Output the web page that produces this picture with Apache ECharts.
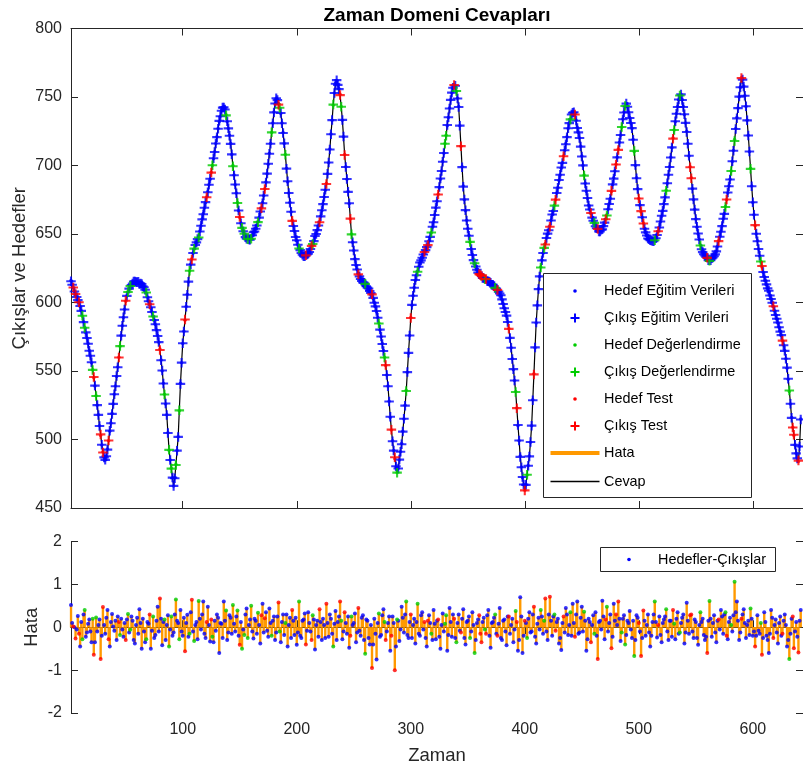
<!DOCTYPE html>
<html>
<head>
<meta charset="utf-8">
<script src="https://cdn.jsdelivr.net/npm/echarts@6/dist/echarts.min.js"></script>
<style>
  html, body { margin: 0; padding: 0; background: #fff; }
  #chart { width: 803px; height: 769px; }
</style>
</head>
<body>
<div id="chart"></div>
<script>
// zaman adımları: 2, 3, ..., 642
const zamanBas = 2;
const zamanAdim = 1;

// hedef değerler (üst grafik), her satır 20 zaman adımı
const hedef = [
  616, 613, 611, 608, 606, 604, 602, 600, 597, 594, 590, 586, 582, 578, 574, 570, 565, 561, 556, 551,
  545, 539, 532, 525, 518, 510, 503, 496, 491, 487, 485, 488, 493, 499, 506, 512, 519, 526, 533, 539,
  546, 553, 560, 568, 576, 583, 589, 595, 601, 605, 608, 610, 612, 613, 614, 615, 615, 615, 615, 615,
  614, 614, 613, 612, 611, 609, 607, 604, 601, 599, 596, 593, 590, 587, 584, 580, 576, 571, 566, 558,
  550, 541, 533, 526, 518, 505, 492, 485, 479, 472, 466, 472, 482, 492, 502, 521, 541, 556, 570, 579,
  587, 597, 606, 615, 623, 628, 632, 636, 639, 642, 644, 646, 648, 652, 656, 661, 665, 669, 673, 677,
  681, 686, 690, 695, 700, 705, 710, 716, 721, 727, 732, 736, 740, 742, 743, 741, 737, 732, 727, 722,
  716, 708, 700, 693, 686, 680, 673, 667, 662, 658, 654, 652, 650, 648, 647, 646, 646, 646, 647, 649,
  651, 652, 654, 656, 659, 662, 666, 669, 673, 678, 683, 688, 694, 701, 709, 716, 724, 731, 739, 745,
  749, 748, 745, 742, 738, 731, 724, 716, 708, 698, 688, 680, 673, 666, 660, 656, 652, 648, 645, 642,
  640, 638, 636, 635, 634, 634, 634, 635, 636, 637, 639, 641, 643, 645, 648, 650, 653, 656, 659, 663,
  667, 672, 677, 682, 687, 694, 702, 712, 723, 733, 744, 753, 760, 762, 759, 756, 752, 743, 733, 721,
  708, 699, 690, 681, 672, 661, 650, 644, 638, 632, 627, 624, 621, 619, 617, 616, 615, 614, 613, 612,
  611, 610, 608, 607, 605, 603, 600, 597, 593, 589, 585, 580, 575, 570, 565, 560, 554, 547, 539, 528,
  516, 507, 499, 492, 486, 480, 476, 479, 485, 491, 497, 506, 515, 525, 536, 549, 563, 576, 589, 598,
  605, 611, 616, 620, 623, 626, 629, 631, 633, 635, 637, 638, 640, 642, 645, 648, 651, 655, 659, 664,
  669, 674, 679, 684, 690, 696, 703, 709, 716, 722, 729, 735, 742, 748, 753, 757, 759, 758, 754, 749,
  743, 729, 714, 699, 685, 675, 667, 660, 654, 649, 644, 639, 635, 631, 628, 626, 624, 622, 621, 620,
  619, 618, 618, 617, 617, 616, 616, 615, 614, 613, 613, 612, 611, 610, 609, 608, 607, 605, 602, 599,
  596, 593, 590, 586, 581, 574, 567, 559, 551, 543, 535, 523, 510, 499, 488, 480, 472, 467, 463, 467,
  474, 481, 488, 498, 510, 529, 548, 567, 585, 598, 610, 619, 626, 631, 636, 640, 643, 647, 650, 653,
  656, 660, 664, 667, 671, 675, 680, 684, 689, 693, 698, 702, 707, 711, 716, 721, 727, 731, 734, 737,
  739, 739, 737, 733, 728, 724, 720, 714, 707, 700, 693, 687, 681, 676, 671, 668, 665, 662, 660, 658,
  656, 654, 653, 652, 652, 653, 654, 656, 658, 661, 664, 668, 672, 676, 681, 686, 691, 696, 701, 706,
  712, 717, 722, 728, 734, 739, 743, 745, 743, 739, 735, 731, 727, 719, 710, 700, 691, 683, 676, 671,
  666, 662, 658, 654, 651, 649, 647, 646, 645, 645, 645, 645, 646, 647, 649, 652, 655, 659, 663, 667,
  672, 677, 682, 687, 693, 699, 706, 713, 720, 726, 732, 738, 743, 748, 751, 752, 748, 743, 737, 731,
  725, 716, 707, 699, 691, 683, 675, 668, 661, 655, 650, 646, 642, 639, 637, 635, 634, 633, 632, 631,
  631, 631, 632, 633, 634, 635, 637, 641, 645, 648, 652, 656, 661, 665, 670, 675, 680, 685, 690, 696,
  703, 711, 719, 727, 735, 742, 750, 757, 764, 763, 758, 751, 743, 733, 722, 710, 698, 685, 673, 664,
  656, 650, 645, 639, 634, 630, 626, 622, 619, 616, 613, 610, 608, 605, 603, 600, 597, 594, 591, 588,
  585, 582, 579, 576, 572, 569, 565, 559, 552, 544, 535, 526, 516, 509, 503, 496, 490, 486, 484, 495,
  515
];

// hata = hedef - çıkış (alt grafik), her satır 20 zaman adımı
const hata = [
  0.52, 0.10, 0.02, 0.00, -0.26, -0.05, 0.26, -0.15, -0.45, 0.12, -0.28, 0.30, 0.40, -0.22, -0.12, 0.08, 0.18, -0.10, -0.35, 0.20,
  -0.64, -0.35, 0.23, -0.10, 0.05, 0.18, -0.74, -0.20, 0.47, 0.05, -0.15, 0.22, 0.40, -0.28, -0.45, 0.12, 0.31, 0.02, -0.08, 0.15,
  -0.30, 0.25, 0.12, -0.18, 0.20, -0.05, -0.22, 0.10, -0.30, 0.18, 0.31, -0.12, -0.06, 0.25, 0.15, -0.30, -0.38, 0.05, 0.22, -0.15,
  0.42, 0.10, -0.50, 0.20, -0.10, -0.35, -0.28, 0.12, 0.08, 0.30, -0.50, -0.08, 0.25, -0.25, -0.18, 0.15, 0.48, -0.10, 0.67, 0.20,
  -0.42, 0.12, 0.18, -0.30, 0.05, 0.28, -0.45, -0.05, 0.25, -0.20, -0.12, 0.30, 0.65, 0.15, 0.10, -0.28, 0.40, -0.10, -0.20, 0.22,
  -0.56, 0.10, 0.29, -0.22, -0.15, 0.35, 0.64, -0.10, -0.32, 0.05, 0.12, -0.28, 0.61, 0.20, -0.05, 0.30, 0.60, -0.15, -0.25, 0.12,
  0.48, 0.05, -0.33, 0.18, -0.22, -0.35, 0.15, -0.08, 0.30, 0.22, -0.60, 0.10, 0.08, -0.25, 0.60, 0.15, 0.39, -0.30, -0.12, 0.28,
  0.22, -0.15, 0.52, 0.08, -0.10, 0.25, 0.39, -0.20, -0.41, 0.12, -0.50, -0.05, -0.18, 0.30, 0.44, -0.25, 0.05, 0.18, 0.50, -0.10,
  -0.26, 0.20, 0.15, -0.15, 0.34, 0.05, -0.38, 0.28, 0.55, -0.12, 0.21, 0.35, -0.08, -0.22, 0.44, 0.10, -0.20, 0.15, 0.25, -0.30,
  -0.12, 0.25, 0.58, -0.10, -0.35, 0.12, 0.30, -0.18, 0.10, 0.30, -0.45, 0.05, 0.22, -0.25, 0.40, 0.15, -0.18, 0.22, -0.41, -0.12,
  0.60, -0.20, -0.25, 0.15, 0.18, 0.32, -0.40, -0.08, 0.35, 0.10, -0.10, -0.30, 0.28, 0.18, -0.52, 0.05, 0.15, -0.22, 0.42, 0.12,
  -0.30, 0.20, 0.05, -0.25, 0.55, 0.10, -0.22, 0.30, 0.20, -0.15, -0.45, 0.08, 0.38, -0.30, 0.12, 0.25, 0.60, 0.15, -0.28, -0.10,
  0.35, 0.10, -0.15, 0.25, -0.48, -0.20, 0.25, 0.05, 0.10, 0.32, -0.35, -0.12, 0.45, -0.08, -0.20, 0.22, 0.28, -0.30, -0.62, 0.18,
  0.15, -0.25, -0.40, 0.05, -0.95, -0.40, 0.20, -0.15, -0.75, 0.10, 0.32, -0.22, -0.18, 0.28, 0.42, 0.12, -0.30, -0.10, 0.10, 0.25,
  -0.55, -0.20, 0.25, 0.10, -1.00, -0.45, 0.18, 0.15, -0.32, -0.05, 0.48, 0.22, -0.12, 0.30, 0.60, -0.18, -0.25, 0.12, 0.30, -0.25,
  0.05, 0.20, -0.38, 0.12, 0.55, -0.15, -0.20, 0.28, 0.35, -0.05, 0.12, -0.25, -0.45, 0.15, 0.28, 0.10, -0.15, -0.30, 0.40, 0.08,
  -0.28, 0.15, 0.18, -0.22, -0.50, 0.05, 0.32, -0.10, 0.08, 0.28, -0.55, -0.18, 0.45, 0.12, -0.22, 0.30, 0.20, -0.25, -0.35, 0.10,
  0.30, -0.08, -0.12, 0.20, 0.42, -0.25, -0.40, 0.12, 0.15, 0.25, -0.25, -0.10, 0.35, 0.05, -0.60, -0.30, 0.10, 0.18, 0.28, -0.15,
  -0.35, 0.12, 0.22, -0.05, -0.15, 0.28, 0.40, -0.20, -0.48, 0.10, 0.12, 0.22, 0.30, -0.15, -0.20, 0.08, 0.45, -0.25, -0.30, 0.15,
  0.18, -0.10, -0.42, 0.25, 0.25, -0.15, 0.05, 0.20, -0.35, -0.05, 0.38, 0.12, -0.55, -0.30, 0.70, 0.25, -0.60, -0.20, 0.15, 0.10,
  -0.25, 0.20, 0.35, -0.12, -0.10, 0.30, 0.48, -0.22, -0.38, 0.08, 0.22, -0.05, 0.40, 0.25, -0.15, 0.15, 0.67, -0.10, -0.30, 0.30,
  0.71, 0.15, -0.20, 0.25, 0.30, -0.08, 0.12, 0.20, -0.38, -0.25, -0.53, 0.10, 0.25, -0.12, 0.45, 0.30, -0.18, 0.05, 0.35, -0.20,
  0.55, 0.10, -0.22, 0.30, 0.60, -0.15, -0.12, 0.22, 0.48, -0.10, 0.36, 0.15, -0.55, -0.28, 0.20, 0.12, -0.35, 0.05, 0.28, -0.15,
  0.35, -0.20, -0.74, 0.12, 0.15, -0.05, 0.62, 0.25, -0.28, 0.18, 0.48, -0.10, 0.10, 0.30, -0.49, -0.22, 0.55, 0.15, 0.30, 0.05,
  0.60, 0.20, -0.32, -0.12, 0.20, 0.28, -0.40, -0.18, 0.15, 0.10, 0.38, -0.05, -0.25, 0.15, -0.67, -0.30, 0.28, 0.22, 0.10, -0.10,
  -0.67, -0.25, 0.39, 0.15, -0.20, 0.05, 0.30, -0.12, -0.45, -0.20, 0.12, 0.30, 0.60, 0.12, -0.24, 0.05, 0.25, -0.18, -0.35, 0.10,
  0.18, 0.25, 0.42, -0.10, -0.30, 0.15, 0.15, -0.22, 0.40, 0.08, -0.28, 0.20, 0.35, -0.15, -0.12, 0.10, 0.22, 0.30, -0.38, -0.12,
  0.57, 0.15, -0.15, 0.28, 0.30, -0.10, -0.25, 0.18, 0.12, -0.25, -0.41, 0.05, 0.35, 0.12, 0.20, -0.18, -0.30, -0.22, -0.60, 0.15,
  0.61, 0.20, -0.22, 0.10, 0.28, -0.12, -0.35, 0.15, 0.18, -0.05, 0.40, 0.25, -0.15, 0.30, 0.35, -0.20, -0.28, 0.12, 0.22, 0.05,
  -0.10, 0.28, 1.06, 0.35, 0.60, 0.15, -0.30, -0.12, 0.20, 0.30, 0.42, 0.10, -0.25, 0.05, 0.15, -0.18, 0.44, 0.20, -0.20, -0.10,
  -0.45, -0.20, 0.28, -0.08, -0.15, 0.10, -0.64, -0.25, 0.35, 0.12, -0.20, -0.30, -0.60, -0.15, 0.40, 0.22, -0.25, 0.05, 0.18, -0.12,
  -0.38, 0.10, 0.25, -0.20, -0.15, 0.15, 0.30, 0.05, -0.45, -0.30, -0.74, -0.15, 0.20, 0.25, -0.49, -0.10, 0.12, -0.22, -0.59, 0.15,
  0.40
];

// veri bölümü: e = eğitim, d = değerlendirme, t = test (her nokta için bir harf)
const bolum = [
  "ee te te et ee de de ee ee ed", "te de ee te te ee et ee ee ee",
  "ee td ee ee te de de ee ee ee", "ee ee ee de et ee de ee ee te",
  "ee de ee de de ee de ed ee ee", "te ee de te de ee de ee ee et",
  "ee et de ee ee ee ee ee de ee", "ee de ee de te de de ed ee de",
  "ee ee de et ee te ee ee de ee", "ee td ee ee de ee ee te ee ee",
  "de ee ee te ee et de ee ee te", "ee ee te ee ee de ee ee td ee",
  "te ee et de ee ee te ee ee de", "ee ee te ee ee de ee ed te ee",
  "et ee te de ee ee ee de ee te", "ee ee de ee ee te et ee de ee",
  "ee te ee ee dd ee ee ee te de", "ee te ee ee ee de ee de ee tt",
  "te ed te ee ee ee de te ee ee", "ee ee te ee ee dt ee ee ee te",
  "de ee ee te ee ee de ed te ee", "te ee dt ee ee ee te ee ee de",
  "ee te ee ee ee de ee ee te ed", "ee te ee ee et de ee te ee te",
  "te ed ee de ee ee ee de ee te", "te te ee ee ee ee de et ee ee",
  "ee de ee ee td ee ee de ee ee", "ee et te ee ee ee de ee ee te",
  "de ee ee ee te ee ee dt ee ed", "ee de ee ee te ee ee ee de ee",
  "te ee ed te ee ee ee ee te ee", "ee ee te ee ee de et te ee te",
  "e"
].join("").replace(/ /g, "").split("");

const xTicks = [100, 200, 300, 400, 500, 600];

const font = "'Liberation Sans', Arial, Helvetica, sans-serif";
const eksenRenk = "#262626";
const renk = { e: "#0000ff", d: "#00cc00", t: "#ff0000" };
const turuncu = "#ff9900";
const arti = "path://M3.9,0h2.2v3.9h3.9v2.2h-3.9v3.9h-2.2v-3.9h-3.9v-2.2h3.9z";

const zaman = hedef.map((_, i) => zamanBas + i * zamanAdim);
const cikis = hedef.map((v, i) => +(v - hata[i]).toFixed(2));

function sec(kod, dizi) {
  const out = [];
  zaman.forEach((t, i) => {
    if (bolum[i] === kod) out.push([t, dizi[i]]);
  });
  return out;
}

function xEksen(grid, pos, etiket) {
  return {
    type: "value", gridIndex: grid, position: pos, min: 2, max: 644,
    axisLine: { lineStyle: { color: eksenRenk, width: 1 } },
    axisTick: { inside: true, length: 7, customValues: xTicks, lineStyle: { color: eksenRenk } },
    axisLabel: {
      show: etiket, customValues: xTicks, margin: 9,
      color: eksenRenk, fontSize: 16, fontFamily: font
    },
    splitLine: { show: false }
  };
}

function yEksen(grid, pos, min, max, aralik, etiket) {
  return {
    type: "value", gridIndex: grid, position: pos, min: min, max: max, interval: aralik,
    axisLine: { show: true, lineStyle: { color: eksenRenk, width: 1 } },
    axisTick: { show: true, inside: true, length: 7, lineStyle: { color: eksenRenk } },
    axisLabel: { show: etiket, margin: 9, color: eksenRenk, fontSize: 16, fontFamily: font },
    splitLine: { show: false }
  };
}

const adStil = { fontSize: 18.5, color: eksenRenk, fontFamily: font };

const xAxes = [
  xEksen(0, "bottom", false),
  xEksen(0, "top", false),
  Object.assign(xEksen(1, "bottom", true), {
    name: "Zaman", nameLocation: "middle", nameGap: 33, nameMoveOverlap: false, nameTextStyle: adStil
  }),
  xEksen(1, "top", false)
];

const yAxes = [
  Object.assign(yEksen(0, "left", 450, 800, 50, true), {
    name: "Çıkışlar ve Hedefler", nameLocation: "middle", nameGap: 42, nameMoveOverlap: false, nameTextStyle: adStil
  }),
  yEksen(0, "right", 450, 800, 50, false),
  Object.assign(yEksen(1, "left", -2, 2, 1, true), {
    name: "Hata", nameLocation: "middle", nameGap: 30, nameMoveOverlap: false, nameTextStyle: adStil
  }),
  yEksen(1, "right", -2, 2, 1, false)
];

const seriler = [
  {
    name: "Cevap", type: "line", xAxisIndex: 0, yAxisIndex: 0,
    data: zaman.map((t, i) => [t, cikis[i]]),
    symbol: "none", lineStyle: { color: "#000", width: 1.2 }, itemStyle: { color: "#000" }, z: 1
  }
];
const adlar = {
  e: ["Hedef Eğitim Verileri", "Çıkış Eğitim Verileri"],
  d: ["Hedef Değerlendirme", "Çıkış Değerlendirme"],
  t: ["Hedef Test", "Çıkış Test"]
};
["e", "d", "t"].forEach(k => {
  seriler.push({
    name: adlar[k][0], type: "scatter", xAxisIndex: 0, yAxisIndex: 0,
    data: sec(k, hedef), symbol: "circle", symbolSize: 3.5,
    itemStyle: { color: renk[k] }, z: 2
  });
  seriler.push({
    name: adlar[k][1], type: "scatter", xAxisIndex: 0, yAxisIndex: 0,
    data: sec(k, cikis), symbol: arti, symbolSize: 9.5,
    itemStyle: { color: renk[k] }, z: 3
  });
});
seriler.push({
  name: "Hata", type: "bar", xAxisIndex: 2, yAxisIndex: 2,
  data: zaman.map((t, i) => [t, hata[i]]),
  barWidth: 2.4, itemStyle: { color: turuncu }, z: 2
});
const hataAd = { e: "Hedefler-Çıkışlar", d: "Hata Değerlendirme", t: "Hata Test" };
["e", "d", "t"].forEach(k => {
  seriler.push({
    name: hataAd[k], type: "scatter", xAxisIndex: 2, yAxisIndex: 2,
    data: sec(k, hata), symbol: "circle", symbolSize: 4,
    itemStyle: { color: renk[k] }, z: 3
  });
});

// lejant kutuları (graphic ile çiziliyor)
const lejant = [
  { ad: "Hedef Eğitim Verileri", y: 291, tur: "nokta", renk: renk.e },
  { ad: "Çıkış Eğitim Verileri", y: 318, tur: "arti", renk: renk.e },
  { ad: "Hedef Değerlendirme", y: 345, tur: "nokta", renk: renk.d },
  { ad: "Çıkış Değerlendirme", y: 372, tur: "arti", renk: renk.d },
  { ad: "Hedef Test", y: 399, tur: "nokta", renk: renk.t },
  { ad: "Çıkış Test", y: 426, tur: "arti", renk: renk.t },
  { ad: "Hata", y: 453, tur: "cizgi", renk: turuncu, kalinlik: 4 },
  { ad: "Cevap", y: 481.5, tur: "cizgi", renk: "#000", kalinlik: 1.3 }
];

function lejantOge(s, ikonX, yaziX) {
  const ogeler = [];
  if (s.tur === "nokta") {
    ogeler.push({ type: "circle", z: 5, shape: { cx: ikonX, cy: s.y, r: 1.8 }, style: { fill: s.renk } });
  } else if (s.tur === "arti") {
    ogeler.push({ type: "line", z: 5, shape: { x1: ikonX - 4.5, y1: s.y, x2: ikonX + 4.5, y2: s.y }, style: { stroke: s.renk, lineWidth: 2 } });
    ogeler.push({ type: "line", z: 5, shape: { x1: ikonX, y1: s.y - 4.5, x2: ikonX, y2: s.y + 4.5 }, style: { stroke: s.renk, lineWidth: 2 } });
  } else {
    ogeler.push({ type: "line", z: 5, shape: { x1: ikonX - 24.5, y1: s.y, x2: ikonX + 24.5, y2: s.y }, style: { stroke: s.renk, lineWidth: s.kalinlik } });
  }
  ogeler.push({
    type: "text", z: 5, x: yaziX, y: Math.round(s.y),
    style: { text: s.ad, fontSize: 14.4, fontFamily: font, fill: "#000", verticalAlign: "middle", align: "left" }
  });
  return ogeler;
}

const grafikler = [
  {
    type: "rect", z: 4, shape: { x: 543.5, y: 273.5, width: 208, height: 224 },
    style: { fill: "#fff", stroke: eksenRenk, lineWidth: 1 }
  },
  {
    type: "rect", z: 4, shape: { x: 600.5, y: 547.5, width: 175, height: 24 },
    style: { fill: "#fff", stroke: eksenRenk, lineWidth: 1 }
  }
];
lejant.forEach(s => grafikler.push(...lejantOge(s, 575, 604)));
grafikler.push(...lejantOge({ ad: "Hedefler-Çıkışlar", y: 559.5, tur: "nokta", renk: renk.e }, 629, 658));

const chart = echarts.init(document.getElementById("chart"));
chart.setOption({
  animation: false,
  backgroundColor: "#fff",
  title: {
    text: "Zaman Domeni Cevapları", left: 437, top: 6, padding: 0, textAlign: "center",
    textStyle: { fontSize: 19, fontWeight: "bold", color: "#000", fontFamily: font }
  },
  grid: [
    { left: 71, top: 28.5, right: 0, height: 479.5 },
    { left: 71, top: 541.5, right: 0, height: 171.5 }
  ],
  xAxis: xAxes,
  yAxis: yAxes,
  graphic: grafikler,
  series: seriler
});
</script>
</body>
</html>
